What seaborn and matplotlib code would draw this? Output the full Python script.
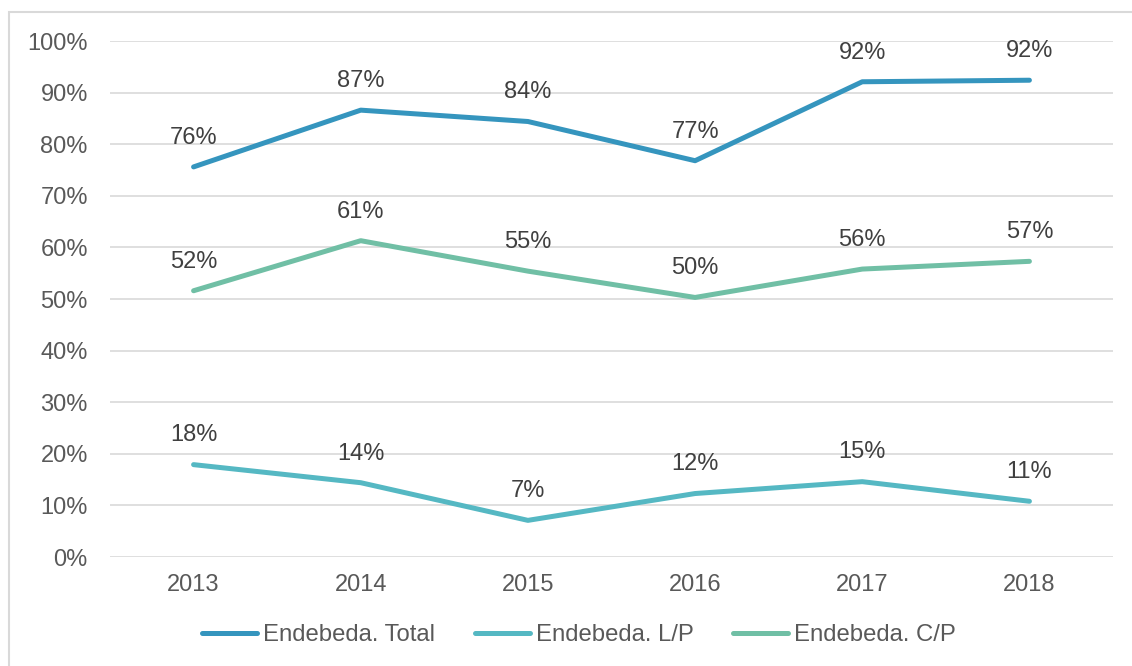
import pandas as pd
import matplotlib.pyplot as plt
import matplotlib.patches as mpatches
import seaborn as sns

years = ['2013', '2014', '2015', '2016', '2017', '2018']
series_names = ['Endebeda. Total', 'Endebeda. L/P', 'Endebeda. C/P']
total = [75.6, 86.6, 84.4, 76.8, 92.1, 92.4]
longo_prazo = [17.9, 14.4, 7.1, 12.3, 14.6, 10.8]
curto_prazo = [51.6, 61.3, 55.4, 50.3, 55.8, 57.3]
colors = ['#3595BE', '#55B8C3', '#70BFA5']

df = pd.DataFrame({
    'ano': years * 3,
    'valor': total + longo_prazo + curto_prazo,
    'serie': [s for s in series_names for _ in years],
})

sns.set_theme(style='white')
plt.rcParams['font.family'] = ['Liberation Sans', 'DejaVu Sans']

fig = plt.figure(figsize=(11.32, 6.66), dpi=100)
ax = fig.add_axes([110 / 1132, 1 - 557 / 666, (1113 - 110) / 1132, (557 - 41) / 666])

sns.lineplot(data=df, x='ano', y='valor', hue='serie', hue_order=series_names,
             palette=colors, linewidth=3.6, solid_capstyle='round', ax=ax, sort=False)

# data labels above each point
for name, vals in zip(series_names, [total, longo_prazo, curto_prazo]):
    for j, v in enumerate(vals):
        ax.annotate(f"{v:.0f}%", (j, v), xytext=(0, 21), textcoords='offset points',
                    ha='center', va='center', fontsize=17, color='#404040')

ax.set_xlim(-0.5, 5.5)
ax.set_ylim(0, 100)
ax.set_yticks(range(0, 101, 10))
ax.set_yticklabels([f"{t}%" for t in range(0, 101, 10)])
ax.grid(axis='y', color='#D9D9D9', linewidth=1.2)
ax.set_axisbelow(True)
for s in ax.spines.values():
    s.set_visible(False)
ax.tick_params(axis='y', length=0, pad=16, labelsize=17, labelcolor='#595959')
ax.tick_params(axis='x', length=0, pad=12, labelsize=17, labelcolor='#595959')
ax.set_xlabel('')
ax.set_ylabel('')

handles, labels = ax.get_legend_handles_labels()
ax.get_legend().remove()
for h in handles:
    h.set_linewidth(3.6)
    h.set_solid_capstyle('round')
fig.legend(handles, labels, loc='center', bbox_to_anchor=(579 / 1132, 1 - 635 / 666), ncol=3,
           frameon=False, fontsize=17.2, labelcolor='#595959', handlelength=2.3,
           handletextpad=0.25, columnspacing=1.65)

# light frame around the chart, running off the right and bottom edges
fig.patches.append(mpatches.Rectangle((9 / 1132, -0.2), 1.5, 1 - 12 / 666 + 0.2,
                                      transform=fig.transFigure, fill=False,
                                      edgecolor='#D9D9D9', linewidth=1.5))

fig.savefig('out.png', dpi=100)
